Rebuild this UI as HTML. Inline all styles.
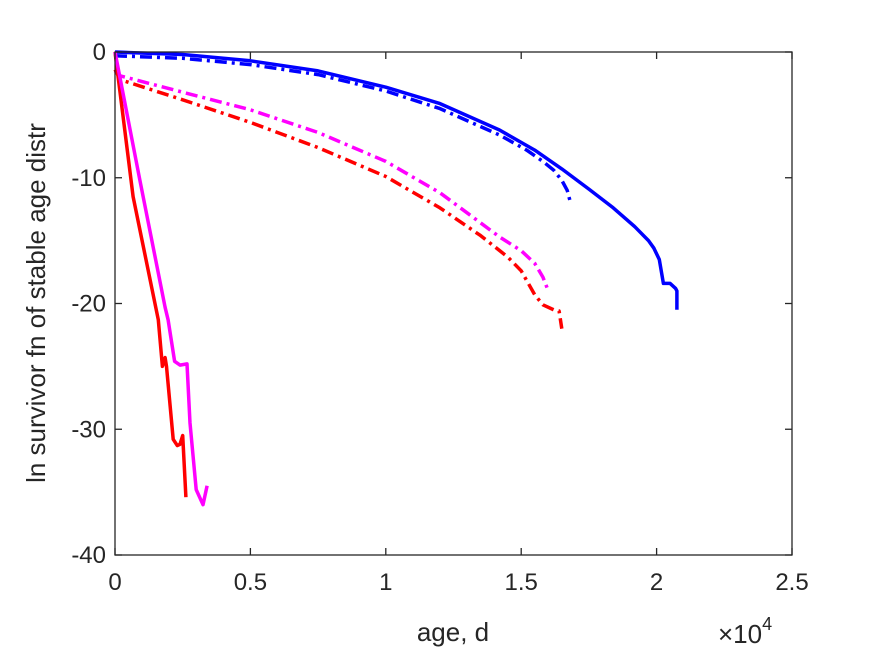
<!DOCTYPE html>
<html><head><meta charset="utf-8"><style>
html,body{margin:0;padding:0;background:#fff;}
svg{display:block;font-family:"Liberation Sans",Arial,sans-serif;}
</style></head><body>
<svg id="chart" width="875" height="656" viewBox="0 0 875 656" xmlns="http://www.w3.org/2000/svg">
<rect width="875" height="656" fill="#fff"/>
<g id="plot"></g>
<g id="axes"></g>
</svg>
<script>
var xTicks=[0,0.5,1,1.5,2,2.5];
var xTickLabels=["0","0.5","1","1.5","2","2.5"];
var yTicks=[0,-10,-20,-30,-40];
var yTickLabels=["0","-10","-20","-30","-40"];
var blueSolidX=[0,0.25,0.5,0.75,1.0,1.2,1.42,1.55,1.65,1.75,1.84,1.92,1.97,1.99,2.01,2.025,2.05,2.07,2.075,2.075];
var blueSolidY=[0,-0.2,-0.7,-1.5,-2.8,-4.1,-6.2,-7.8,-9.3,-10.9,-12.4,-13.9,-15.0,-15.6,-16.5,-18.4,-18.4,-18.8,-19.0,-20.5];
var blueDashX=[0,0.25,0.5,0.75,1.0,1.2,1.42,1.52,1.58,1.62,1.65,1.67,1.68];
var blueDashY=[-0.3,-0.5,-1.0,-1.8,-3.1,-4.5,-6.6,-7.8,-8.7,-9.4,-10.2,-11.0,-11.8];
var magDashX=[0,0.02,0.25,0.5,0.75,1.0,1.2,1.42,1.5,1.55,1.58,1.6];
var magDashY=[-1.5,-1.9,-3.2,-4.6,-6.4,-8.7,-11.2,-14.7,-15.8,-16.8,-17.9,-19.0];
var redDashX=[0,0.02,0.25,0.5,0.75,1.0,1.2,1.35,1.45,1.5,1.55,1.58,1.62,1.64,1.65];
var redDashY=[-1.4,-2.2,-3.8,-5.6,-7.6,-9.9,-12.4,-14.6,-16.3,-17.4,-19.3,-20.1,-20.5,-20.6,-22.0];
var redSolidX=[0,0.067,0.16,0.175,0.185,0.19,0.215,0.23,0.24,0.25,0.262];
var redSolidY=[0,-11.5,-21.3,-25,-24.3,-25,-30.8,-31.3,-31.2,-30.5,-35.4];
var magSolidX=[0,0.092,0.185,0.196,0.22,0.24,0.266,0.277,0.3,0.325,0.34];
var magSolidY=[0,-10.2,-20.3,-21.3,-24.6,-24.9,-24.8,-29.5,-34.8,-36,-34.5];

var X0=115,X1=792,Y0=52,Y1=555;
function sx(v){return X0+(v-0)/2.5*(X1-X0);}
function sy(v){return Y0+(0-v)/40*(Y1-Y0);}
var NS="http://www.w3.org/2000/svg";
function mk(tag,attrs,parent){var e=document.createElementNS(NS,tag);for(var k in attrs)e.setAttribute(k,attrs[k]);parent.appendChild(e);return e;}
var plot=document.getElementById('plot'),axes=document.getElementById('axes');
function series(xs,ys,color,dash,name){
  var d='';for(var i=0;i<xs.length;i++){d+=(i?'L':'M')+sx(xs[i]).toFixed(1)+','+sy(ys[i]).toFixed(1);}
  var p=mk('path',{d:d,fill:'none',stroke:color,'stroke-width':3.5,'stroke-linejoin':'round'},plot);
  if(dash)p.setAttribute('stroke-dasharray','12,5,3,5');
  
  
}
series(blueDashX,blueDashY,'#0000ff',true,'blue-dashdot-line');
series(blueSolidX,blueSolidY,'#0000ff',false,'blue-solid-line');
series(magDashX,magDashY,'#ff00ff',true,'magenta-dashdot-line');
series(redDashX,redDashY,'#ff0000',true,'red-dashdot-line');
series(redSolidX,redSolidY,'#ff0000',false,'red-solid-line');
series(magSolidX,magSolidY,'#ff00ff',false,'magenta-solid-line');

var box=mk('rect',{x:X0,y:Y0,width:X1-X0,height:Y1-Y0,fill:'none',stroke:'#262626','stroke-width':1.3},axes);


for(var i=0;i<xTicks.length;i++){
  var x=sx(xTicks[i]);
  mk('line',{x1:x,x2:x,y1:Y1,y2:Y1-7,stroke:'#262626','stroke-width':1.3},axes);
  mk('line',{x1:x,x2:x,y1:Y0,y2:Y0+7,stroke:'#262626','stroke-width':1.3},axes);
  var t=mk('text',{x:x,y:Y1+35,'text-anchor':'middle','font-size':24,fill:'#262626'},axes);
  t.textContent=xTickLabels[i];
  
  
}
for(var j=0;j<yTicks.length;j++){
  var y=sy(yTicks[j]);
  mk('line',{x1:X0,x2:X0+7,y1:y,y2:y,stroke:'#262626','stroke-width':1.3},axes);
  mk('line',{x1:X1,x2:X1-7,y1:y,y2:y,stroke:'#262626','stroke-width':1.3},axes);
  var t2=mk('text',{x:X0-9,y:y+8,'text-anchor':'end','font-size':24,fill:'#262626'},axes);
  t2.textContent=yTickLabels[j];
  
  
}
</script>
<svg style="position:absolute;left:0;top:0" width="875" height="656">
<text x="453" y="641" text-anchor="middle" font-size="26" fill="#262626" font-family="Liberation Sans, sans-serif">age, d</text>
<text transform="translate(45,303) rotate(-90)" text-anchor="middle" font-size="26" fill="#262626" font-family="Liberation Sans, sans-serif">ln survivor fn of stable age distr</text>
<text x="718" y="643" font-size="26" fill="#262626" font-family="Liberation Sans, sans-serif">×10<tspan font-size="18" dy="-13">4</tspan></text>
</svg>
</body></html>
